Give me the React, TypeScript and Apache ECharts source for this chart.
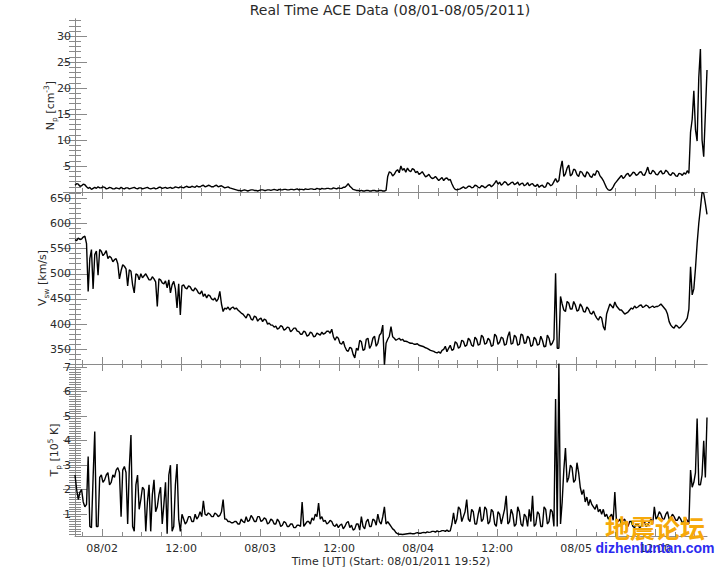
import React, { useEffect, useRef } from "react";
import * as echarts from "echarts";

const TITLE = "Real Time ACE Data (08/01-08/05/2011)";
const X_NAME = "Time [UT] (Start: 08/01/2011 19:52)";
const STEP_HOURS = 0.25;
const SPAN_HOURS = 96;
const X_TICK_HOURS = [4.1333, 16.1333, 28.1333, 40.1333, 52.1333, 64.1333, 76.1333, 88.1333];
const X_TICK_LABELS = ["08/02", "12:00", "08/03", "12:00", "08/04", "12:00", "08/05", "12:00"];

// Proton density [cm^-3], every 15 minutes from 08/01 19:52
const density = [
  1.3, 1.6, 1.5, 1.1, 1.2, 1.5, 1.4, 1.0, 0.7, 0.9, 0.5, 0.7, 0.9, 0.7, 1.0, 0.8, 0.8, 1.0, 0.9, 0.6,
  0.7, 0.9, 0.8, 0.6, 0.6, 0.8, 0.7, 0.6, 0.9, 0.7, 0.6, 0.8, 0.8, 0.6, 0.7, 0.8, 0.9, 0.7, 0.6, 0.8,
  0.8, 0.6, 0.7, 0.8, 0.9, 0.7, 0.6, 0.7, 0.8, 0.6, 0.7, 0.9, 0.9, 0.7, 0.8, 0.9, 0.7, 0.8, 0.9, 0.7,
  0.8, 1.0, 0.9, 0.8, 1.0, 0.9, 0.8, 1.0, 1.1, 0.9, 0.9, 1.1, 1.0, 0.9, 1.2, 1.0, 1.0, 1.2, 1.3, 1.0,
  1.1, 1.3, 1.2, 1.0, 1.0, 1.2, 1.3, 1.0, 1.1, 1.2, 1.0, 0.8, 0.9, 1.0, 0.8, 0.7, 0.6, 0.5, 0.4, 0.3,
  0.3, 0.2, 0.3, 0.4, 0.3, 0.2, 0.3, 0.4, 0.4, 0.3, 0.3, 0.2, 0.3, 0.4, 0.4, 0.3, 0.3, 0.4, 0.4, 0.3,
  0.4, 0.5, 0.4, 0.3, 0.5, 0.4, 0.4, 0.5, 0.5, 0.4, 0.4, 0.5, 0.5, 0.4, 0.5, 0.6, 0.4, 0.5, 0.5, 0.4,
  0.6, 0.5, 0.5, 0.6, 0.6, 0.5, 0.5, 0.7, 0.6, 0.5, 0.7, 0.6, 0.6, 0.7, 0.7, 0.6, 0.6, 0.8, 0.7, 0.6,
  0.8, 0.7, 0.7, 0.9, 0.9, 1.2, 1.6, 1.1, 0.8, 0.5, 0.4, 0.3, 0.3, 0.2, 0.3, 0.2, 0.2, 0.3, 0.3, 0.2,
  0.2, 0.3, 0.3, 0.2, 0.2, 0.3, 0.3, 0.2, 0.2, 0.3, 3.0, 3.9, 3.7, 3.1, 3.4, 4.0, 4.3, 3.7, 5.0, 4.2,
  4.5, 3.8, 4.6, 4.1, 3.9, 4.5, 4.3, 3.7, 4.0, 3.4, 3.6, 3.9, 3.4, 2.9, 3.1, 3.4, 2.9, 2.6, 2.7, 3.0,
  2.6, 2.2, 2.5, 2.8, 2.2, 2.6, 2.7, 2.3, 2.4, 1.6, 0.9, 0.5, 0.4, 0.5, 0.6, 0.8, 1.0, 0.7, 0.8, 1.1,
  1.1, 0.8, 0.9, 1.3, 1.2, 0.9, 0.8, 1.2, 1.1, 0.8, 1.0, 1.3, 1.4, 1.0, 1.3, 1.7, 2.2, 1.5, 1.9, 1.3,
  1.6, 2.0, 1.8, 1.3, 1.5, 1.8, 1.9, 1.4, 1.6, 1.9, 1.3, 1.6, 1.7, 1.2, 1.4, 1.8, 1.2, 1.5, 1.6, 1.2,
  1.1, 1.5, 0.9, 1.2, 1.3, 0.9, 1.0, 1.8, 1.6, 1.2, 1.4, 2.0, 2.6, 1.9, 2.2, 4.5, 6.0, 3.0, 3.5, 4.6,
  5.2, 3.1, 3.4, 4.4, 4.2, 3.3, 3.0, 4.0, 3.8, 3.2, 2.9, 3.9, 3.6, 3.0, 2.8, 3.5, 3.2, 4.1, 3.9, 3.1,
  2.7, 2.2, 1.5, 0.8, 0.4, 0.3, 0.5, 1.0, 1.6, 2.0, 2.4, 2.8, 3.2, 2.6, 2.9, 3.4, 3.6, 3.0, 3.3, 3.8,
  3.7, 3.2, 3.4, 3.8, 3.9, 3.3, 3.2, 3.9, 4.8, 3.6, 3.5, 4.2, 3.9, 3.4, 3.3, 3.8, 4.1, 3.5, 3.6, 4.2,
  3.9, 3.4, 3.2, 3.7, 3.6, 3.1, 3.0, 3.6, 3.5, 3.2, 3.7, 3.4, 4.1, 3.6, 11.5, 14.0, 19.5, 12.0, 9.8, 22.0,
  27.5, 10.0, 6.8, 15.0, 23.5,
];

// Solar wind speed [km/s]
const speed = [
  568, 566, 571, 568, 569, 573, 575, 560, 465, 530, 548, 470, 538, 545, 497, 548, 545, 536, 540, 546,
  530, 535, 532, 524, 528, 530, 520, 490, 506, 518, 515, 510, 476, 508, 505, 478, 462, 500, 498, 488,
  500, 492, 496, 500, 494, 488, 488, 494, 490, 484, 435, 490, 488, 482, 480, 486, 472, 488, 462, 478,
  485, 470, 432, 480, 418, 476, 478, 472, 470, 476, 474, 468, 466, 472, 468, 462, 460, 466, 455, 460,
  452, 458, 456, 450, 448, 452, 445, 450, 465, 440, 425, 432, 430, 434, 428, 432, 434, 430, 432, 428,
  425, 422, 420, 416, 412, 420, 418, 410, 408, 416, 414, 406, 410, 412, 405, 410, 408, 400, 402, 398,
  398, 394, 396, 390, 392, 397, 395, 388, 390, 394, 393, 385, 388, 392, 392, 386, 385, 380, 380, 386,
  384, 376, 378, 384, 382, 375, 376, 382, 380, 378, 384, 380, 382, 386, 386, 382, 390, 375, 368, 375,
  372, 362, 360, 366, 355, 348, 346, 354, 352, 340, 333, 352, 348, 368, 365, 348, 350, 370, 372, 352,
  358, 372, 376, 356, 362, 378, 382, 398, 318, 362, 370, 376, 395, 375, 372, 368, 370, 372, 368, 370,
  366, 366, 365, 363, 362, 362, 360, 360, 361, 358, 357, 356, 355, 353, 352, 350, 348, 347, 346, 344,
  343, 345, 342, 348, 350, 356, 345, 352, 358, 348, 350, 365, 362, 352, 355, 368, 366, 356, 358, 372,
  368, 358, 356, 374, 370, 358, 360, 378, 374, 360, 362, 372, 368, 356, 358, 380, 376, 360, 364, 374,
  372, 358, 360, 376, 385, 360, 362, 378, 374, 358, 360, 380, 378, 362, 363, 376, 372, 356, 358, 374,
  370, 358, 360, 376, 368, 355, 356, 378, 372, 358, 362, 370, 501, 352, 352, 455, 440, 428, 425, 445,
  442, 430, 430, 445, 438, 426, 428, 440, 435, 425, 424, 434, 430, 422, 420, 426, 418, 412, 408, 415,
  412, 395, 388, 420, 430, 440, 436, 432, 444, 436, 432, 428, 428, 424, 420, 422, 424, 428, 432, 430,
  436, 432, 434, 437, 438, 433, 435, 438, 436, 432, 434, 436, 433, 435, 435, 437, 440, 436, 432, 428,
  420, 405, 398, 394, 392, 398, 396, 392, 394, 398, 402, 406, 412, 430, 514, 458, 470, 511, 560, 600,
  630, 662, 660, 640, 618,
];

// Proton temperature [10^5 K]
const temperature = [
  2.6, 2.0, 1.6, 1.9, 2.0, 1.5, 1.3, 1.4, 3.35, 0.5, 0.45, 2.5, 4.37, 0.5, 0.5, 2.5, 2.6, 2.3, 2.4, 2.6,
  2.7, 2.2, 2.3, 2.6, 2.5, 2.8, 2.9, 2.7, 0.9, 2.8, 2.95, 2.7, 0.6, 2.9, 4.23, 0.5, 0.3, 2.2, 2.6, 1.2,
  1.6, 2.1, 2.0, 0.3, 1.5, 2.2, 0.3, 1.8, 2.4, 1.1, 1.3, 1.8, 2.1, 0.6, 1.4, 2.3, 0.2, 2.6, 3.0, 0.3,
  0.5, 2.2, 3.05, 0.8, 0.3, 1.0, 0.8, 0.6, 0.7, 0.9, 0.9, 0.7, 0.7, 1.0, 0.8, 0.9, 1.1, 0.9, 1.55, 1.0,
  0.95, 1.05, 1.0, 0.9, 0.9, 1.05, 1.0, 0.9, 0.95, 1.1, 1.6, 0.8, 0.8, 0.7, 0.7, 0.65, 0.65, 0.7, 0.7, 0.6,
  0.6, 0.8, 0.7, 0.65, 0.9, 0.7, 0.75, 0.95, 0.85, 0.7, 0.7, 0.9, 0.9, 0.7, 0.75, 0.85, 0.8, 0.6, 0.65, 0.8,
  0.75, 0.6, 0.6, 0.8, 0.7, 0.5, 0.55, 0.7, 0.65, 0.5, 0.5, 0.6, 0.6, 0.45, 0.45, 0.55, 0.55, 0.5, 1.5, 0.5,
  0.6, 0.7, 0.7, 0.6, 0.85, 0.75, 1.0, 0.9, 1.45, 0.8, 0.9, 0.7, 0.75, 0.6, 0.65, 0.75, 0.7, 0.55, 0.5, 0.6,
  0.45, 0.55, 0.6, 0.4, 0.5, 0.65, 0.7, 0.45, 0.55, 0.35, 0.4, 0.6, 0.6, 0.35, 0.9, 0.5, 0.4, 0.7, 0.8, 0.5,
  0.5, 0.8, 0.75, 0.55, 1.0, 0.7, 0.6, 0.9, 1.3, 0.6, 0.7, 0.6, 0.5, 0.4, 0.35, 0.25, 0.2, 0.18, 0.18, 0.17,
  0.18, 0.19, 0.2, 0.21, 0.22, 0.2, 0.2, 0.23, 0.25, 0.22, 0.22, 0.25, 0.26, 0.24, 0.28, 0.26, 0.27, 0.3, 0.3, 0.27,
  0.32, 0.29, 0.3, 0.33, 0.33, 0.3, 0.35, 0.3, 0.32, 0.6, 1.05, 0.6, 0.8, 1.3, 1.2, 0.7, 0.9, 1.1, 1.6, 0.8,
  0.7, 1.2, 1.1, 0.6, 0.6, 1.0, 1.3, 0.7, 0.8, 1.3, 1.2, 0.6, 0.7, 1.2, 1.1, 0.6, 0.5, 1.1, 1.0, 0.6,
  0.9, 1.2, 1.75, 0.6, 0.7, 1.2, 1.0, 0.5, 0.6, 1.3, 1.1, 0.6, 0.5, 1.0, 0.9, 0.5, 1.2, 0.7, 1.75, 0.5,
  0.6, 1.1, 1.0, 0.5, 0.5, 1.3, 1.2, 0.6, 0.7, 1.2, 1.1, 0.5, 5.7, 0.5, 7.15, 0.6, 1.5, 2.8, 3.7, 2.3,
  2.5, 3.0, 2.9, 2.3, 2.4, 3.1, 2.7, 2.1, 1.8, 2.0, 1.5, 1.7, 1.35, 1.6, 1.4, 1.3, 1.2, 1.4, 1.1, 1.2,
  1.0, 1.2, 0.9, 1.0, 0.8, 0.9, 1.0, 0.75, 1.9, 0.7, 0.7, 0.8, 0.6, 0.75, 0.8, 0.55, 0.5, 0.7, 0.7, 0.5,
  0.45, 0.6, 0.6, 0.45, 0.5, 0.65, 0.7, 0.5, 0.55, 0.7, 0.8, 0.6, 1.3, 0.8, 0.9, 1.1, 1.0, 0.8, 0.8, 1.0,
  1.1, 0.8, 0.85, 1.0, 0.9, 0.75, 0.75, 0.9, 0.8, 0.65, 0.7, 0.85, 0.75, 0.6, 2.8, 2.1, 2.3, 2.7, 4.9, 2.2,
  2.2, 2.6, 4.0, 2.5, 4.95,
];

const N_MAJOR = [0, 5, 10, 15, 20, 25, 30];
const N_LABELS = [5, 10, 15, 20, 25, 30];
const V_MAJOR = [350, 400, 450, 500, 550, 600, 650];
const T_MAJOR = [1, 2, 3, 4, 5, 6, 7];

const FONT = "DejaVu Sans";
const TEXT_COLOR = "#2a2a2a";
const FRAME = "#8a8a8a";

function range(a: number, b: number, step: number, skip: number, div = 1): number[] {
  const out: number[] = [];
  for (let k = a; k <= b; k += step) {
    if (k % skip !== 0) out.push(k / div);
  }
  return out;
}

const N_MINOR = range(1, 33, 1, 5);
const V_MINOR = range(330, 660, 10, 50);
const T_MINOR = range(2, 71, 1, 10, 10);

const X_MINOR: number[] = [];
for (let k = 0; k < 40; k++) {
  const h = 1.1333 + 3 * k;
  if (h > SPAN_HOURS) break;
  if (k % 4 !== 1) X_MINOR.push(h);
}

const hours = density.map((_, i) => i * STEP_HOURS);

const richName = {
  m: { fontSize: 11, lineHeight: 16, verticalAlign: "middle", fontFamily: FONT, color: TEXT_COLOR },
  s: { fontSize: 7.5, lineHeight: 7, verticalAlign: "bottom", fontFamily: FONT, color: TEXT_COLOR },
  u: { fontSize: 7.5, lineHeight: 7, verticalAlign: "top", fontFamily: FONT, color: TEXT_COLOR },
};

const panels = [
  {
    values: density, min: 0, max: 33.3, majors: N_MAJOR, labels: N_LABELS, minors: N_MINOR,
    name: "{m|N}{s|p}{m| [cm}{u|-3}{m|]}", nameGap: 17,
  },
  {
    values: speed, min: 320.8, max: 662.5, majors: V_MAJOR, labels: V_MAJOR, minors: V_MINOR,
    name: "{m|V}{s|sw}{m| [km/s]}", nameGap: 25,
  },
  {
    values: temperature, min: 0.11, max: 7.13, majors: T_MAJOR, labels: T_MAJOR, minors: T_MINOR,
    name: "{m|T}{s|p}{m| [10}{u|5}{m| K]}", nameGap: 13,
  },
];

const GRIDS = [
  { top: 19, height: 173 },
  { top: 192, height: 172 },
  { top: 364, height: 172 },
];

function buildOption() {
  const grid = GRIDS.map((g) => ({ left: 75, right: 13, top: g.top, height: g.height, containLabel: false }));
  const xAxis: any[] = [];
  const yAxis: any[] = [];
  const series: any[] = [];

  panels.forEach((p, g) => {
    const baseX = {
      type: "value", gridIndex: g, min: 0, max: SPAN_HOURS,
      splitLine: { show: false }, minorTick: { show: false },
    };
    xAxis.push({
      ...baseX, position: "bottom",
      axisLine: { show: true, lineStyle: { color: FRAME, width: 1 } },
      axisTick: { show: true, inside: true, length: 7, customValues: X_TICK_HOURS, lineStyle: { color: FRAME } },
      axisLabel: {
        show: g === 2, customValues: X_TICK_HOURS, margin: 7,
        fontFamily: FONT, fontSize: 11, color: TEXT_COLOR,
        formatter: (v: number) => {
          let best = 0;
          X_TICK_HOURS.forEach((h, i) => { if (Math.abs(h - v) < Math.abs(X_TICK_HOURS[best] - v)) best = i; });
          return X_TICK_LABELS[best];
        },
      },
      name: g === 2 ? X_NAME : "", nameLocation: "middle", nameGap: 20, nameMoveOverlap: false,
      nameTextStyle: { fontFamily: FONT, fontSize: 11, color: TEXT_COLOR },
    });
    xAxis.push({
      ...baseX, position: "bottom",
      axisLine: { show: false },
      axisTick: { show: true, inside: true, length: 4, customValues: X_MINOR, lineStyle: { color: FRAME } },
      axisLabel: { show: false },
    });
    xAxis.push({
      ...baseX, position: "top",
      axisLine: { show: true, lineStyle: { color: FRAME, width: 1 } },
      axisTick: { show: true, inside: true, length: 7, customValues: X_TICK_HOURS, lineStyle: { color: FRAME } },
      axisLabel: { show: false },
    });
    xAxis.push({
      ...baseX, position: "top",
      axisLine: { show: false },
      axisTick: { show: true, inside: true, length: 4, customValues: X_MINOR, lineStyle: { color: FRAME } },
      axisLabel: { show: false },
    });

    const baseY = {
      type: "value", gridIndex: g, min: p.min, max: p.max,
      splitLine: { show: false }, minorTick: { show: false },
    };
    yAxis.push({
      ...baseY, position: "left",
      axisLine: { show: true, lineStyle: { color: FRAME, width: 1 } },
      axisTick: { show: true, inside: true, length: 12, customValues: p.majors, lineStyle: { color: FRAME } },
      axisLabel: {
        show: true, customValues: p.labels, margin: 4,
        fontFamily: FONT, fontSize: 11, color: TEXT_COLOR,
        formatter: (v: number) => String(Math.round(v)),
      },
      name: p.name, nameLocation: "middle", nameGap: p.nameGap, nameMoveOverlap: false,
      nameTextStyle: { rich: richName },
    });
    yAxis.push({
      ...baseY, position: "left",
      axisLine: { show: false },
      axisTick: { show: true, inside: true, length: 6, customValues: p.minors, lineStyle: { color: FRAME } },
      axisLabel: { show: false },
    });
    yAxis.push({
      ...baseY, position: "right",
      axisLine: { show: true, lineStyle: { color: FRAME, width: 1 } },
      axisTick: { show: true, inside: true, length: 12, customValues: p.majors, lineStyle: { color: FRAME } },
      axisLabel: { show: false },
    });
    yAxis.push({
      ...baseY, position: "right",
      axisLine: { show: false },
      axisTick: { show: true, inside: true, length: 6, customValues: p.minors, lineStyle: { color: FRAME } },
      axisLabel: { show: false },
    });

    series.push({
      type: "line",
      xAxisIndex: g * 4,
      yAxisIndex: g * 4,
      data: p.values.map((v, i) => [hours[i], v]),
      showSymbol: false,
      symbol: "none",
      clip: true,
      lineStyle: { color: "#000", width: 1.4 },
      z: 5,
    });
  });

  return {
    animation: false,
    backgroundColor: "#fff",
    grid,
    xAxis,
    yAxis,
    series,
    graphic: [
      {
        type: "text", x: 390, y: 10, z: 10,
        style: {
          text: TITLE, fontFamily: FONT, fontSize: 14, fill: TEXT_COLOR,
          align: "center", verticalAlign: "middle",
        },
      },
      {
        type: "text", x: 655, y: 527, z: 20,
        style: {
          text: "地震论坛", fontFamily: "Noto Sans CJK SC", fontWeight: "bold", fontSize: 25,
          fill: "#f6a90a", align: "center", verticalAlign: "middle",
        },
      },
      {
        type: "text", x: 655, y: 548, z: 20,
        style: {
          text: "dizhenluntan.com", fontFamily: "Liberation Sans", fontWeight: "bold", fontSize: 14,
          fill: "#2b2bf0", align: "center", verticalAlign: "middle",
        },
      },
    ],
  };
}

export default function App() {
  const ref = useRef<HTMLDivElement>(null);
  useEffect(() => {
    if (!ref.current) return;
    const chart = echarts.init(ref.current, null, { renderer: "svg" });
    chart.setOption(buildOption() as any);
    return () => chart.dispose();
  }, []);
  return (
    <div
      ref={ref}
      style={{ position: "absolute", left: 0, top: 0, width: 720, height: 576, background: "#fff" }}
    />
  );
}
